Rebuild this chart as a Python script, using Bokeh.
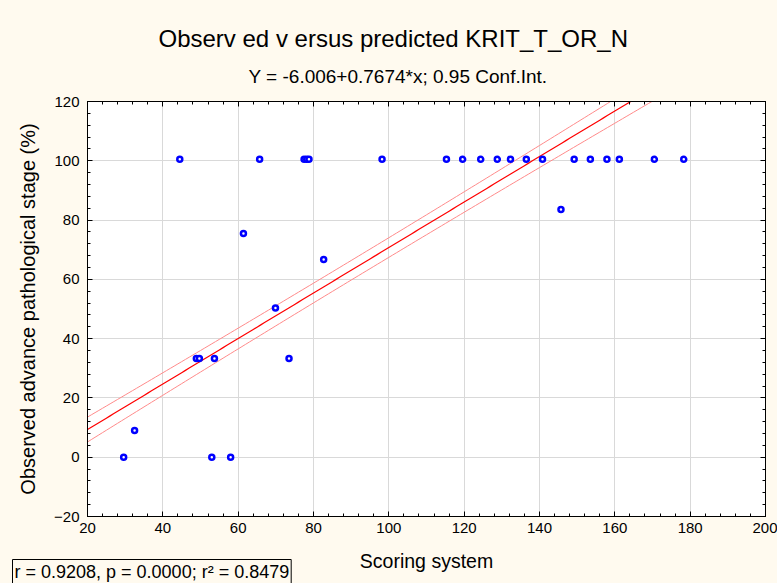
import numpy as np
from bokeh.plotting import figure
from bokeh.models import (Range1d, SingleIntervalTicker, LinearAxis, Title,
                          ColumnDataSource, CustomJSTickFormatter)
from bokeh.embed import file_html
from bokeh.resources import INLINE

# ---- data ----
score = [29.6, 32.5, 44.5, 48.9, 49.7, 53.0, 53.7, 58.0, 61.4, 65.7, 69.9, 73.5,
         77.5, 78.2, 78.8, 82.7, 98.2, 115.3, 119.6, 124.4, 128.8, 132.3, 136.5,
         140.8, 145.7, 149.2, 153.5, 157.9, 161.2, 170.5, 178.3]
observed = [0, 9, 100.5, 33.3, 33.3, 0, 33.3, 0, 75.5, 100.5, 50.3, 33.3,
            100.5, 100.5, 100.5, 66.7, 100.5, 100.5, 100.5, 100.5, 100.5, 100.5, 100.5,
            100.5, 83.6, 100.5, 100.5, 100.5, 100.5, 100.5, 100.5]

intercept = -6.006
slope = 0.7674
ci_center_x = 92.0      # x where the confidence band is narrowest
ci_center_half = 3.3    # half-width of band there
ci_slope_half = 0.036   # growth of band with distance from center

title_text = "Observ ed v ersus predicted KRIT_T_OR_N"
subtitle_text = "Y = -6.006+0.7674*x; 0.95 Conf.Int."
stats_text = "r = 0.9208, p = 0.0000; r\u00b2 = 0.8479"
x_label = "Scoring system"
y_label = "Observed advance pathological stage (%)"

FONT = "Liberation Sans"
BG = "#FFFAEF"

# ---- figure ----
p = figure(width=777, height=583, x_range=Range1d(20, 200), y_range=Range1d(-20, 120),
           output_backend="svg", toolbar_location=None,
           min_border_left=87, min_border_right=12, min_border_top=101, min_border_bottom=67,
           background_fill_color="white", border_fill_color=BG,
           outline_line_color="black", outline_line_width=1)

xt = SingleIntervalTicker(interval=20, num_minor_ticks=5)
yt = SingleIntervalTicker(interval=20, num_minor_ticks=5)
p.xaxis.ticker = xt
p.yaxis.ticker = yt
p.xgrid.ticker = xt
p.ygrid.ticker = yt
p.grid.grid_line_color = "#D9D9D9"
p.grid.grid_line_width = 1

for ax in (p.xaxis[0], p.yaxis[0]):
    ax.major_tick_in = 5
    ax.major_tick_out = 0
    ax.minor_tick_in = 3
    ax.minor_tick_out = 0
    ax.axis_line_color = "black"
    ax.major_tick_line_color = "black"
    ax.minor_tick_line_color = "black"
    ax.major_label_text_font = FONT
    ax.major_label_text_font_size = "15px"
    ax.major_label_text_color = "black"
    ax.axis_label_text_font = FONT
    ax.axis_label_text_font_style = "normal"
    ax.axis_label_text_color = "black"

p.xaxis.axis_label = x_label
p.yaxis.axis_label = y_label
p.xaxis.axis_label_text_font_size = "19.5px"
p.yaxis.axis_label_text_font_size = "20px"
p.xaxis.major_label_standoff = 6
p.yaxis.major_label_standoff = 8
p.xaxis.axis_label_standoff = 14
p.yaxis.axis_label_standoff = 12

for loc in ("above", "right"):
    ax = LinearAxis(ticker=SingleIntervalTicker(interval=20, num_minor_ticks=5),
                    major_tick_in=5, major_tick_out=0, minor_tick_in=3, minor_tick_out=0,
                    formatter=CustomJSTickFormatter(code="return ''"),
                    major_label_standoff=0, axis_line_color="black")
    p.add_layout(ax, loc)

# ---- titles ----
p.add_layout(Title(text=subtitle_text, text_font=FONT, text_font_size="19px",
                   text_font_style="normal", text_color="black", align="left",
                   offset=161, standoff=30), "above")
p.title.text = title_text
p.title.text_font = FONT
p.title.text_font_size = "24px"
p.title.text_font_style = "normal"
p.title.text_color = "black"
p.title.align = "left"
p.title.offset = 71
p.title.standoff = -6

p.add_layout(Title(text=stats_text, text_font=FONT, text_font_size="18px",
                   text_font_style="normal", text_color="black", align="left",
                   vertical_align="top", offset=-75, standoff=-30,
                   border_line_color="black", border_line_width=1,
                   background_fill_color=None, padding=2), "below")

# ---- regression line and confidence band ----
xs = np.linspace(20, 200, 181)
fit = intercept + slope * xs
half = np.sqrt(ci_center_half ** 2 + (ci_slope_half * (xs - ci_center_x)) ** 2)
p.line(xs, fit + half, line_color="#FF8A8A", line_width=1)
p.line(xs, fit - half, line_color="#FF8A8A", line_width=1)
p.line(xs, fit, line_color="#FF0000", line_width=1.2)

# ---- points ----
src = ColumnDataSource(dict(x=score, y=observed))
p.scatter("x", "y", source=src, marker="circle", size=5, fill_color="white",
          line_color="#0000FF", line_width=2.5)

html = file_html(p, INLINE)
html = html.replace("</head>", "<style>body{background-color:%s;}</style></head>" % BG, 1)
open("out.html", "w").write(html)
